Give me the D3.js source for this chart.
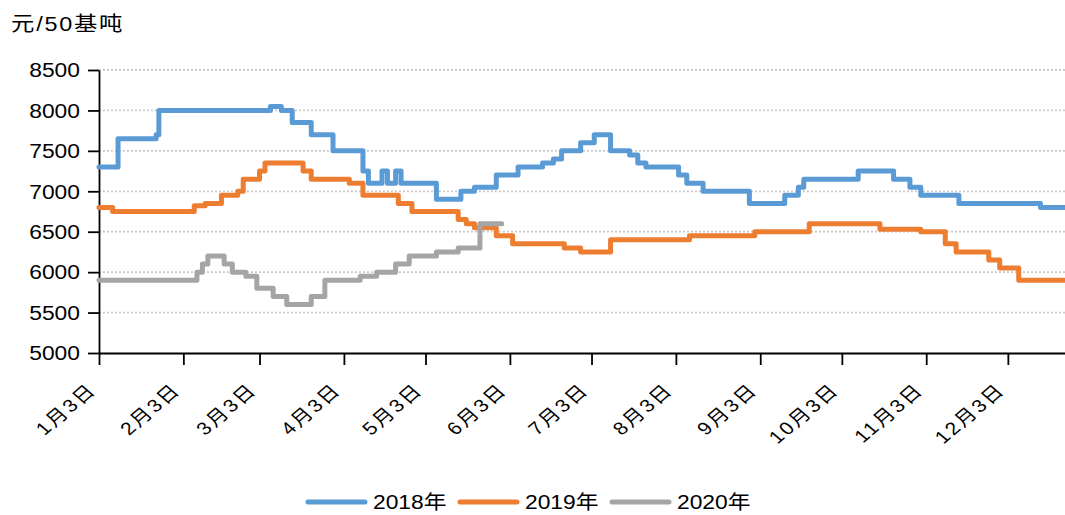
<!DOCTYPE html>
<html>
<head>
<meta charset="utf-8">
<script src="https://cdn.jsdelivr.net/npm/d3@7"></script>
<style>
  body { margin: 0; background: #fff; }
  svg text { font-family: "Liberation Sans", Arial, "Noto Sans CJK SC", sans-serif; fill: #000; }
</style>
</head>
<body>
<div id="chart"></div>
<script>
const unitLabel = '元/50基吨';
const seriesNames = ['2018年', '2019年', '2020年'];
const seriesColors = ['#5b9bd5', '#ed7d31', '#a5a5a5'];
const yTicks = [5000, 5500, 6000, 6500, 7000, 7500, 8000, 8500];
const monthTicks = ['1/3', '2/3', '3/3', '4/3', '5/3', '6/3', '7/3', '8/3', '9/3', '10/3', '11/3', '12/3'];

// change points: [month/day, price], value holds until next point
const s2018 = [
  ['1/3', 7300], ['1/10', 7650], ['1/24', 7700], ['1/25', 8000], ['3/7', 8050], ['3/11', 8000],
  ['3/15', 7850], ['3/22', 7700], ['3/30', 7500], ['4/10', 7250], ['4/12', 7100], ['4/17', 7250],
  ['4/19', 7100], ['4/22', 7250], ['4/24', 7100], ['5/7', 6900], ['5/16', 7000], ['5/21', 7050],
  ['5/29', 7200], ['6/6', 7300], ['6/15', 7350], ['6/19', 7400], ['6/22', 7500], ['6/29', 7600],
  ['7/4', 7700], ['7/10', 7500], ['7/17', 7450], ['7/20', 7350], ['7/23', 7300], ['8/4', 7200],
  ['8/7', 7100], ['8/13', 7000], ['8/30', 6850], ['9/12', 6950], ['9/17', 7050], ['9/19', 7150],
  ['10/9', 7250], ['10/22', 7150], ['10/28', 7050], ['11/1', 6950], ['11/15', 6850], ['12/15', 6800],
  ['12/24', 6800]
];
const s2019 = [
  ['1/3', 6800], ['1/8', 6750], ['2/7', 6820], ['2/11', 6850], ['2/17', 6950], ['2/23', 7000],
  ['2/25', 7150], ['3/3', 7250], ['3/5', 7350], ['3/19', 7250], ['3/22', 7150], ['4/5', 7100],
  ['4/10', 6950], ['4/23', 6850], ['4/28', 6750], ['5/15', 6650], ['5/18', 6600], ['5/21', 6550],
  ['5/29', 6450], ['6/4', 6350], ['6/23', 6300], ['6/29', 6250], ['7/10', 6400], ['8/8', 6450],
  ['9/1', 6500], ['9/21', 6600], ['10/17', 6530], ['11/1', 6500], ['11/10', 6350], ['11/14', 6250],
  ['11/26', 6150], ['11/30', 6050], ['12/7', 5900], ['12/24', 5900]
];
const s2020 = [
  ['1/3', 5900], ['2/8', 6000], ['2/10', 6100], ['2/12', 6200], ['2/18', 6100], ['2/21', 6000],
  ['2/26', 5950], ['3/2', 5800], ['3/8', 5700], ['3/13', 5600], ['3/22', 5700], ['3/27', 5900],
  ['4/9', 5950], ['4/15', 6000], ['4/22', 6100], ['4/27', 6200], ['5/7', 6250], ['5/15', 6300],
  ['5/23', 6600], ['5/31', 6600]
];

const width = 1065;
const height = 515;
const plot = {left: 99, right: 1065, top: 70, bottom: 353};
const stretch = 1.17;

const toDate = s => {
  const [m, d] = s.split('/').map(Number);
  return new Date(2018, m - 1, d);
};

const svg = d3.select('#chart')
  .append('svg')
    .attr('width', width)
    .attr('height', height);

const x = d3.scaleTime()
  .domain([toDate('1/3'), toDate('12/24')])
  .range([plot.left, plot.right]);

const y = d3.scaleLinear()
  .domain([5000, 8500])
  .range([plot.bottom, plot.top]);

// dotted grid
svg.append('g')
  .selectAll('line')
  .data(yTicks.filter(v => v > 5000))
  .enter()
  .append('line')
    .attr('x1', plot.left)
    .attr('x2', plot.right)
    .attr('y1', d => y(d))
    .attr('y2', d => y(d))
    .attr('stroke', '#c2c2c2')
    .attr('stroke-width', 1.8)
    .attr('stroke-dasharray', '1.8,2.2');

// y axis
const yAxis = svg.append('g')
  .attr('transform', `translate(${plot.left},0)`)
  .call(d3.axisLeft(y).tickValues(yTicks).tickSize(11).tickSizeOuter(0).tickFormat(d3.format('')));
yAxis.select('.domain').attr('stroke', '#000').attr('stroke-width', 1.8);
yAxis.selectAll('.tick line').attr('stroke', '#000').attr('stroke-width', 1.8);
yAxis.selectAll('.tick text')
  .attr('x', 0)
  .attr('dy', '0.35em')
  .attr('transform', `translate(-19,0) scale(${stretch},1)`)
  .style('font-size', '19.5px');

// x axis
const xAxis = svg.append('g')
  .attr('transform', `translate(0,${plot.bottom})`)
  .call(d3.axisBottom(x)
    .tickValues(monthTicks.map(toDate))
    .tickSize(12)
    .tickSizeOuter(0)
    .tickFormat(d => `${d.getMonth() + 1}月${d.getDate()}日`));
xAxis.select('.domain').attr('stroke', '#000').attr('stroke-width', 1.8);
xAxis.selectAll('.tick line').attr('stroke', '#000').attr('stroke-width', 1.8);
xAxis.selectAll('.tick text')
  .attr('x', 0)
  .attr('y', 0)
  .attr('dy', 0)
  .attr('transform', `translate(-2,38) scale(${stretch},1) rotate(-45)`)
  .style('text-anchor', 'end')
  .style('font-size', '18px')
  .style('letter-spacing', '2px');

// series
const line = d3.line()
  .x(d => x(toDate(d[0])))
  .y(d => y(d[1]))
  .curve(d3.curveStepAfter);

[s2018, s2019, s2020].forEach((s, i) => {
  svg.append('path')
    .datum(s)
    .attr('d', line)
    .attr('fill', 'none')
    .attr('stroke', seriesColors[i])
    .attr('stroke-width', 5)
    .attr('stroke-linejoin', 'round')
    .attr('stroke-linecap', 'round');
});

// unit label
svg.append('text')
  .attr('transform', `translate(11,31) scale(${stretch},1)`)
  .style('font-size', '20px')
  .style('letter-spacing', '1.5px')
  .text(unitLabel);

// legend
const legend = svg.append('g')
  .selectAll('g')
  .data(seriesNames)
  .enter()
  .append('g')
    .attr('transform', (d, i) => `translate(${308 + i * 152},502)`);
legend.append('line')
  .attr('x1', 0)
  .attr('x2', 57)
  .attr('stroke', (d, i) => seriesColors[i])
  .attr('stroke-width', 5)
  .attr('stroke-linecap', 'round');
legend.append('text')
  .attr('transform', `translate(65,7) scale(${stretch},1)`)
  .style('font-size', '19.5px')
  .text(d => d);
</script>
</body>
</html>
